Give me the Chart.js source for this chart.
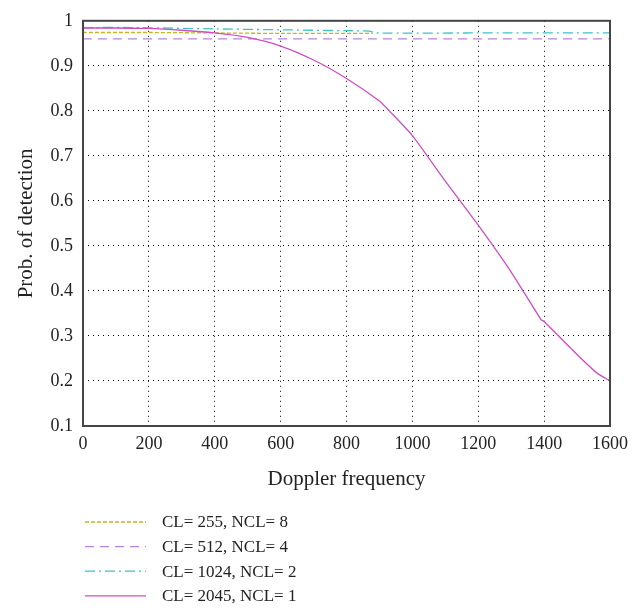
<!DOCTYPE html>
<html>
<head>
<meta charset="utf-8">
<script src="https://cdn.jsdelivr.net/npm/chart.js@4.4.1/dist/chart.umd.min.js"></script>
<style>
  html, body { margin: 0; padding: 0; background: #fff; }
  #wrap { width: 643px; height: 608px; }
</style>
</head>
<body>
<div id="wrap"><canvas id="pdChart" width="643" height="608"></canvas></div>
<script>
// Series data
const labels = ["CL= 255, NCL= 8", "CL= 512, NCL= 4", "CL= 1024, NCL= 2", "CL= 2045, NCL= 1"];

const freq255 = [0, 200, 400, 600, 880];
const pd255 = [0.974, 0.974, 0.973, 0.972, 0.972];

const freq512 = [0, 400, 800, 1200, 1600];
const pd512 = [0.960, 0.960, 0.960, 0.960, 0.960];

const freq1024 = [0, 150, 400, 600, 800, 870, 890, 1200, 1600];
const pd1024 = [0.985, 0.985, 0.982, 0.980, 0.978, 0.977, 0.973, 0.973, 0.973];

const freq2045 = [0, 100, 200, 300, 400, 500, 600, 700, 800, 900, 930, 1000, 1100, 1200, 1300, 1390, 1400, 1500, 1560, 1600];
const pd2045 = [0.984, 0.984, 0.983, 0.979, 0.973, 0.963, 0.944, 0.913, 0.872, 0.822, 0.800, 0.745, 0.644, 0.546, 0.442, 0.337, 0.332, 0.259, 0.218, 0.200];

const xTicks = [0, 200, 400, 600, 800, 1000, 1200, 1400, 1600];
const yTicks = [0.1, 0.2, 0.3, 0.4, 0.5, 0.6, 0.7, 0.8, 0.9, 1];

const serif = "'Liberation Serif', 'DejaVu Serif', serif";

function toPoints(xs, ys) {
  return xs.map((x, i) => ({ x: x, y: ys[i] }));
}

const styles = [
  { color: "#c4b81c", dash: [4, 2], width: 1.3 },
  { color: "#b884dc", dash: [9, 6], width: 1.3 },
  { color: "#3cc4c4", dash: [10, 4, 2, 4], width: 1.3 },
  { color: "#d04cc4", dash: [], width: 1.3 }
];

const series = [
  toPoints(freq255, pd255),
  toPoints(freq512, pd512),
  toPoints(freq1024, pd1024),
  toPoints(freq2045, pd2045)
];

// frame around the plot + legend below
const framePlugin = {
  id: "frame",
  afterDraw(chart) {
    const ctx = chart.ctx;
    const a = chart.chartArea;
    ctx.save();
    ctx.strokeStyle = "#444";
    ctx.lineWidth = 2;
    ctx.setLineDash([]);
    ctx.strokeRect(a.left, a.top, a.right - a.left, a.bottom - a.top);

    // legend, one entry per row
    ctx.font = "17px " + serif;
    ctx.textBaseline = "middle";
    ctx.fillStyle = "#222";
    labels.forEach((txt, i) => {
      const y = 522 + i * 24.6;
      const s = styles[i];
      ctx.strokeStyle = s.color;
      ctx.lineWidth = s.width;
      ctx.setLineDash(s.dash);
      ctx.beginPath();
      ctx.moveTo(85, y);
      ctx.lineTo(146, y);
      ctx.stroke();
      ctx.setLineDash([]);
      ctx.fillText(txt, 162, y + 1);
    });
    ctx.restore();
  }
};

const ctx = document.getElementById("pdChart").getContext("2d");
new Chart(ctx, {
  type: "line",
  data: {
    datasets: series.map((pts, i) => ({
      label: labels[i],
      data: pts,
      borderColor: styles[i].color,
      borderDash: styles[i].dash,
      borderWidth: styles[i].width,
      pointRadius: 0,
      fill: false,
      tension: 0.2,
      order: 3 - i
    }))
  },
  options: {
    responsive: false,
    animation: false,
    events: [],
    layout: { padding: { left: 0, top: 11, right: 33, bottom: 112 } },
    plugins: {
      legend: { display: false },
      tooltip: { enabled: false }
    },
    scales: {
      x: {
        type: "linear",
        min: 0,
        max: 1600,
        afterBuildTicks: s => { s.ticks = xTicks.map(v => ({ value: v })); },
        afterFit: s => { s.height = 70; },
        grid: {
          color: c => (c.tick.value === 0 || c.tick.value === 1600) ? "rgba(0,0,0,0)" : "#000",
          lineWidth: 1,
          drawTicks: false
        },
        border: { display: false, dash: [1, 4] },
        ticks: {
          padding: 7,
          color: "#222",
          font: { family: serif, size: 18 },
          maxRotation: 0,
          callback: v => String(v)
        },
        title: {
          display: true,
          text: "Doppler frequency",
          color: "#222",
          font: { family: serif, size: 21 },
          padding: { top: 7 }
        }
      },
      y: {
        type: "linear",
        min: 0.1,
        max: 1,
        afterBuildTicks: s => { s.ticks = yTicks.map(v => ({ value: v })); },
        afterFit: s => { s.width = 83; },
        grid: {
          color: c => (c.tick.value <= 0.1 || c.tick.value >= 1) ? "rgba(0,0,0,0)" : "#000",
          lineWidth: 1,
          drawTicks: false
        },
        border: { display: false, dash: [1, 4] },
        ticks: {
          padding: 10,
          color: "#222",
          font: { family: serif, size: 18 },
          callback: v => String(Math.round(v * 10) / 10)
        },
        title: {
          display: true,
          text: "Prob. of detection",
          color: "#222",
          font: { family: serif, size: 21 },
          padding: { top: 14, bottom: 4 }
        }
      }
    }
  },
  plugins: [framePlugin]
});
</script>
</body>
</html>
